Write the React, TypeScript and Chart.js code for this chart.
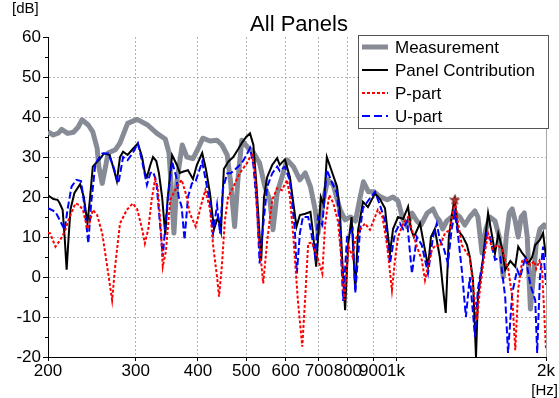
import React, { useEffect, useRef } from "react";
import { Chart, registerables } from "chart.js";

Chart.register(...registerables);

// [frequency in Hz, level in dB]
const measurement: [number, number][] = [
  [200, 36.3], [205, 35.5], [210, 36.0], [213, 36.9], [219, 35.9], [225, 36.2], [230, 37.5], [234, 39.3],
  [241, 38.0], [246, 36.3], [251, 32.2], [253, 27.6], [257, 23.4], [261, 27.6], [264, 31.0], [273, 31.8],
  [279, 33.5], [289, 38.4], [302, 39.4], [317, 38.0], [331, 35.9], [344, 34.5], [350, 31], [353, 24],
  [358, 11], [363, 24], [372, 33], [380, 30], [391, 29.6], [400, 32], [409, 34.7], [423, 34],
  [437, 34.2], [447, 33], [458, 30.5], [465, 24], [474, 12.6], [481, 24], [490, 34.2], [502, 32.6],
  [516, 31.3], [532, 28.5], [545, 22.6], [558, 19.3], [566, 11.8], [577, 21], [590, 25], [604, 29.3],
  [622, 27.6], [641, 24.3], [657, 26], [673, 22.6], [688, 16.8], [697, 11], [711, 18], [729, 24.3],
  [748, 23], [771, 17], [790, 14.3], [810, 15], [829, 14], [847, 20], [860, 23.8], [880, 21.3],
  [903, 21.3], [928, 20.1], [960, 19.3], [986, 20], [1009, 19], [1033, 14.3], [1052, 12.6], [1076, 16],
  [1101, 14], [1122, 13], [1155, 16], [1186, 17], [1207, 15], [1224, 14], [1240, 12], [1264, 14],
  [1293, 15], [1312, 16], [1343, 15], [1374, 13], [1406, 15], [1440, 16.5], [1460, 15], [1488, 6],
  [1515, 12], [1543, 15], [1580, 14], [1611, 10], [1641, 0], [1664, 10], [1688, 16], [1711, 17],
  [1735, 14], [1759, 10], [1783, 15], [1809, 16], [1834, 10], [1861, -8], [1886, 0], [1911, 8],
  [1945, 12], [1982, 13], [2000, 12],
];

const panelContribution: [number, number][] = [
  [200, 20.4], [205, 19.5], [209, 19.3], [211, 18.5], [214, 16.8], [216, 10], [218, 1.8], [220, 10],
  [222, 17], [226, 21], [232, 23.2], [236, 20], [240, 13.4], [243, 20], [246, 27.6], [255, 29.7],
  [259, 30.9], [266, 30.5], [271, 27], [275, 24], [279, 30], [283, 31.3], [289, 30.5], [296, 32],
  [303, 33.4], [309, 30], [313, 26], [316, 25], [321, 28], [325, 30], [330, 29], [334, 26],
  [339, 20], [344, 10.5], [348, 20], [355, 30.5], [363, 28], [368, 26], [373, 26.3], [382, 26.7],
  [391, 24.5], [398, 28], [408, 31], [415, 27], [423, 20.9], [431, 12], [439, 15], [445, 11.5],
  [451, 27], [460, 28.8], [471, 30], [482, 32], [490, 33.5], [500, 35], [509, 35.9], [517, 33],
  [524, 23.4], [531, 12], [536, 4.2], [543, 20], [551, 25], [564, 28], [577, 29.7], [584, 28],
  [598, 29.4], [612, 25], [621, 19], [631, 12.6], [641, 15.5], [657, 15.8], [673, 16.3], [681, 11],
  [691, 2.6], [706, 20], [716, 18], [726, 30], [740, 27], [761, 22.6], [771, 16.8], [779, 5],
  [790, -8.3], [801, 8], [814, 15], [828, -3.3], [839, 11.8], [858, 18.8], [878, 17.5], [907, 20.9],
  [928, 19.5], [950, 17.2], [972, 5.9], [986, 12], [1009, 15], [1033, 14.5], [1057, 17.6], [1071, 12],
  [1086, 10], [1117, 13.4], [1138, 8], [1159, 2.6], [1175, 10], [1196, 12], [1224, 5], [1240, -2],
  [1258, -9], [1276, 10], [1302, 17.6], [1312, 19.3], [1330, 11.8], [1363, 10], [1388, 8], [1406, 5.1],
  [1427, -0.8], [1447, -20], [1460, -5], [1488, 2.6], [1509, 9.3], [1530, 16], [1560, 10], [1580, 5.9],
  [1604, 10.9], [1634, 7], [1656, 1.8], [1696, 4], [1735, 2.6], [1759, 7.6], [1791, 6], [1818, 5],
  [1843, 3.4], [1876, 5], [1903, 8], [1945, 9.3], [1973, 11], [2000, 5],
];

const pPart: [number, number][] = [
  [200, 11], [202, 10.9], [207, 7.6], [211, 9], [216, 11.3], [221, 15], [227, 18.4], [231, 18],
  [235, 16.8], [240, 12], [243, 14], [246, 16.8], [251, 15.5], [257, 10.9], [263, 2.6], [269, -5.8],
  [273, 3], [279, 13.4], [288, 16.8], [296, 18.4], [302, 17], [309, 12], [313, 8.4], [318, 12],
  [323, 19.3], [328, 24.3], [332, 22.6], [337, 12], [340, 2.6], [345, 6.5], [352, 19.3], [363, 22.6],
  [371, 24.3], [380, 20], [385, 16], [396, 12.6], [406, 18], [414, 21.7], [423, 17], [429, 8],
  [437, 0], [441, -4.9], [447, 3], [453, 14], [460, 20], [471, 22.5], [485, 25.9], [502, 28.5],
  [509, 30], [514, 30.5], [521, 26], [529, 10.9], [541, -1.6], [551, 9], [564, 19.3], [577, 22.2],
  [590, 21.7], [604, 24.3], [612, 20], [621, 11], [635, -5.8], [648, -17.4], [657, -5], [666, 8.4],
  [678, 8.6], [694, 5.1], [711, 0.9], [720, 13], [734, 20.5], [748, 18.5], [764, 14], [775, 6],
  [787, -5.8], [803, 7.6], [818, 5], [828, 9.3], [847, 11.8], [866, 13.4], [886, 11.8], [907, 15],
  [919, 16.8], [939, 15], [960, 7.6], [981, -3.3], [995, 4.3], [1009, 10], [1033, 13.4], [1057, 15],
  [1076, 11.8], [1101, 7.6], [1126, 4.3], [1143, -0.8], [1159, 2.6], [1180, 6.8], [1201, 8], [1224, 7.6],
  [1254, 11], [1283, 11.8], [1312, 19.3], [1330, 14], [1355, 8], [1388, 5.9], [1406, 5], [1427, -2],
  [1453, -10.8], [1474, -3], [1502, 5], [1530, 10.9], [1560, 7], [1596, 8], [1634, 7], [1656, 4],
  [1680, 2], [1711, -5], [1735, -18.3], [1759, -3], [1791, 4], [1826, 4.3], [1861, 3], [1895, 4],
  [1911, 2], [1940, 4], [1964, 2], [1991, -13.3], [2000, -18],
];

const uPart: [number, number][] = [
  [200, 17.2], [207, 16.3], [211, 14.3], [216, 11.8], [219, 17], [223, 22.6], [228, 24.3], [233, 24],
  [236, 19], [241, 8.4], [244, 18], [249, 28.4], [257, 30.9], [264, 30.9], [270, 28], [277, 23.4],
  [283, 30], [289, 29.2], [296, 31], [303, 33.4], [309, 29], [316, 23], [321, 26], [325, 26.3],
  [330, 24], [336, 12.6], [340, 5.1], [347, 18], [355, 28.8], [362, 25], [366, 20], [371, 17.6],
  [376, 9.3], [382, 20], [389, 23.4], [396, 24], [408, 28.8], [415, 24], [423, 18.4], [429, 10.9],
  [437, 18], [443, 10.9], [449, 22], [458, 25.9], [466, 26], [482, 27.6], [493, 29], [509, 32.2],
  [517, 28], [526, 16.8], [532, 3.4], [540, 12], [551, 22.6], [564, 25.9], [577, 27.6], [584, 26.5],
  [598, 27.6], [612, 24], [626, 12], [632, 0.9], [641, 11], [650, 15], [666, 15], [678, 10],
  [688, 5.1], [697, 15], [711, 13], [726, 26.8], [744, 23.5], [761, 21], [771, 12], [783, -6],
  [797, 10], [818, 12], [828, -4], [847, 12], [858, 17.2], [878, 19], [907, 21.3], [928, 18],
  [950, 14], [972, 3.4], [995, 11], [1018, 13.4], [1033, 12], [1052, 14], [1076, 0.9], [1101, 10],
  [1126, 8], [1159, 0.9], [1186, 10], [1207, 13.4], [1224, 9.3], [1248, 7], [1271, 3.4], [1293, 12],
  [1312, 16], [1330, 11], [1355, 1.8], [1381, -10], [1406, 0], [1427, -9], [1440, -15], [1460, -3],
  [1488, 3], [1522, 10.9], [1543, 10], [1580, 4.3], [1619, 5], [1656, -5], [1678, -19], [1711, -4],
  [1751, 1.8], [1776, 0], [1818, 5.1], [1861, -2], [1903, -5.8], [1920, -19], [1945, 0], [1973, 7.6],
  [2000, -2],
];

const peakMarker: [number, number][] = [[1312, 19.3]];

const xTickValues = [200, 300, 400, 500, 600, 700, 800, 900, 1000, 2000];
const xTickLabels = ["200", "300", "400", "500", "600", "700", "800", "900", "1k", "2k"];
const yMin = -20;
const yMax = 60;
const yStep = 10;

const FONT = '"Liberation Sans", Arial, Helvetica, sans-serif';
const GRID = "#b4b4b4";
const COLORS = {
  measurement: "#868b96",
  panel: "#000000",
  p: "#ff0000",
  u: "#0000ff",
};

const toPoints = (arr: [number, number][]) => arr.map(([x, y]) => ({ x, y }));

const legendItems = [
  { label: "Measurement", color: COLORS.measurement, width: 5, dash: [] as number[] },
  { label: "Panel Contribution", color: COLORS.panel, width: 2, dash: [] as number[] },
  { label: "P-part", color: COLORS.p, width: 2, dash: [3, 2] },
  { label: "U-part", color: COLORS.u, width: 2, dash: [8, 4] },
];

const overlayPlugin = {
  id: "overlay",
  afterDraw(chart: any) {
    const { ctx, chartArea: a, scales } = chart;
    ctx.save();
    ctx.strokeStyle = "#a8a8a8";
    ctx.lineWidth = 1;
    ctx.setLineDash([]);
    ctx.beginPath();
    ctx.moveTo(Math.round(a.right) + 0.5, a.top);
    ctx.lineTo(Math.round(a.right) + 0.5, a.bottom);
    ctx.stroke();

    const ys = scales.y;
    ctx.strokeStyle = "#000";
    ctx.beginPath();
    for (let v = yMin + yStep / 2; v < yMax; v += yStep) {
      const py = Math.round(ys.getPixelForValue(v)) + 0.5;
      ctx.moveTo(a.left - 3, py);
      ctx.lineTo(a.left, py);
    }
    ctx.stroke();

    ctx.fillStyle = "#000";
    ctx.font = `22px ${FONT}`;
    ctx.textAlign = "center";
    ctx.textBaseline = "alphabetic";
    ctx.fillText("All Panels", (a.left + a.right) / 2 + 2, 31);
    ctx.font = `15px ${FONT}`;
    ctx.textAlign = "left";
    ctx.fillText("[dB]", 12, 13);
    ctx.textAlign = "right";
    ctx.fillText("[Hz]", 558, 395);

    const bx = 358.5, by = 35.5, bw = 190, bh = 93;
    ctx.fillStyle = "#fff";
    ctx.fillRect(bx, by, bw, bh);
    ctx.strokeStyle = "#555";
    ctx.lineWidth = 1;
    ctx.strokeRect(bx, by, bw, bh);
    ctx.font = `17px ${FONT}`;
    ctx.textAlign = "left";
    ctx.textBaseline = "middle";
    legendItems.forEach((it, i) => {
      const ry = 47 + i * 23;
      ctx.strokeStyle = it.color;
      ctx.lineWidth = it.width;
      ctx.setLineDash(it.dash);
      ctx.beginPath();
      ctx.moveTo(362, ry);
      ctx.lineTo(388, ry);
      ctx.stroke();
      ctx.setLineDash([]);
      ctx.fillStyle = "#000";
      ctx.fillText(it.label, 395, ry + 1);
    });
    ctx.restore();
  },
};

export default function App() {
  const ref = useRef<HTMLCanvasElement | null>(null);

  useEffect(() => {
    document.body.style.margin = "0";
    const canvas = ref.current;
    if (!canvas) return;

    const star = document.createElement("canvas");
    star.width = 11;
    star.height = 11;
    const sc = star.getContext("2d");
    if (sc) {
      sc.beginPath();
      for (let i = 0; i < 10; i++) {
        const r = i % 2 === 0 ? 5 : 2.1;
        const ang = -Math.PI / 2 + (i * Math.PI) / 5;
        sc.lineTo(5.5 + r * Math.cos(ang), 5.8 + r * Math.sin(ang));
      }
      sc.closePath();
      sc.fillStyle = "#a8322c";
      sc.fill();
      sc.strokeStyle = "#6a0a0a";
      sc.lineWidth = 0.8;
      sc.stroke();
    }

    const chart = new Chart(canvas, {
      type: "line",
      data: {
        datasets: [
          {
            label: "peak",
            data: toPoints(peakMarker),
            showLine: false,
            pointStyle: star as any,
            pointRadius: 5,
            order: 0,
          },
          {
            label: "P-part",
            data: toPoints(pPart),
            borderColor: COLORS.p,
            borderWidth: 2,
            borderDash: [3, 2],
            pointRadius: 0,
            tension: 0,
            order: 1,
          },
          {
            label: "U-part",
            data: toPoints(uPart),
            borderColor: COLORS.u,
            borderWidth: 2,
            borderDash: [7, 3],
            pointRadius: 0,
            tension: 0,
            order: 2,
          },
          {
            label: "Panel Contribution",
            data: toPoints(panelContribution),
            borderColor: COLORS.panel,
            borderWidth: 2,
            pointRadius: 0,
            tension: 0,
            order: 3,
          },
          {
            label: "Measurement",
            data: toPoints(measurement),
            borderColor: COLORS.measurement,
            borderWidth: 5,
            borderJoinStyle: "round",
            pointRadius: 0,
            tension: 0,
            order: 4,
          },
        ],
      },
      options: {
        responsive: false,
        devicePixelRatio: 1,
        animation: false,
        layout: { padding: { top: 37, right: 13, left: 0, bottom: 0 } },
        plugins: {
          legend: { display: false },
          title: { display: false },
          tooltip: { enabled: false },
        },
        scales: {
          x: {
            type: "logarithmic",
            min: 200,
            max: 2000,
            afterBuildTicks: (s: any) => {
              s.ticks = xTickValues.map((v) => ({ value: v }));
            },
            afterFit: (s: any) => {
              s.height = 41;
            },
            ticks: {
              autoSkip: false,
              maxRotation: 0,
              minRotation: 0,
              padding: 0,
              color: "#000",
              font: { family: FONT, size: 17 },
              callback: (v: any) => {
                const i = xTickValues.indexOf(Number(v));
                return i >= 0 ? xTickLabels[i] : "";
              },
            },
            grid: {
              color: (c: any) =>
                c.tick && (c.tick.value === 200 || c.tick.value === 2000) ? "rgba(0,0,0,0)" : GRID,
              lineWidth: 1,
              drawTicks: true,
              tickLength: 4,
              tickColor: "#000",
            },
            border: { display: true, color: "#000", width: 1, dash: [2, 2] },
          },
          y: {
            min: yMin,
            max: yMax,
            afterFit: (s: any) => {
              s.width = 48;
            },
            ticks: {
              stepSize: yStep,
              padding: 2,
              color: "#000",
              font: { family: FONT, size: 17 },
            },
            grid: {
              color: (c: any) =>
                c.tick && (c.tick.value === yMax || c.tick.value === yMin) ? "rgba(0,0,0,0)" : GRID,
              lineWidth: 1,
              drawTicks: true,
              tickLength: 5,
              tickColor: "#000",
            },
            border: { display: true, color: "#000", width: 1, dash: [2, 2] },
          },
        },
      },
      plugins: [overlayPlugin],
    });

    return () => chart.destroy();
  }, []);

  return (
    <div style={{ width: 559, height: 398, background: "#fff" }}>
      <canvas ref={ref} width={559} height={398} style={{ display: "block" }} />
    </div>
  );
}
